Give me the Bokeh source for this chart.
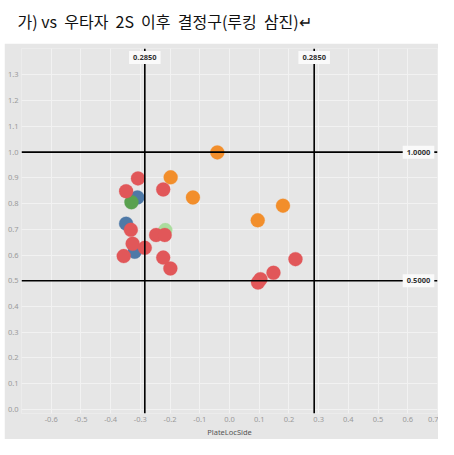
from bokeh.plotting import figure
from bokeh.models import Range1d, Span, FixedTicker, NumeralTickFormatter, ColumnDataSource
from bokeh.layouts import column
from bokeh.core.properties import value
from bokeh.embed import file_html
from bokeh.resources import INLINE

# ---- data ----
title_text = "가) vs\u00a0\u00a0우타자\u00a0\u00a02S\u00a0\u00a0이후\u00a0\u00a0결정구(루킹\u00a0\u00a0삼진)↵"
x_label = "PlateLocSide"

x_ticks = [-0.7, -0.6, -0.5, -0.4, -0.3, -0.2, -0.1, 0.0, 0.1, 0.2, 0.3, 0.4, 0.5, 0.6, 0.7]
y_ticks = [0.0, 0.1, 0.2, 0.3, 0.4, 0.5, 0.6, 0.7, 0.8, 0.9, 1.0, 1.1, 1.2, 1.3]

ref_x = [-0.285, 0.285]
ref_y = [1.0, 0.5]

blue_x = [-0.348, -0.310, -0.319]
blue_y = [0.722, 0.824, 0.613]

lightgreen_x = [-0.216]
lightgreen_y = [0.697]

green_x = [-0.330]
green_y = [0.805]

orange_x = [-0.041, -0.198, -0.123, 0.180, 0.095]
orange_y = [0.999, 0.902, 0.824, 0.792, 0.735]

red_x = [-0.308, -0.348, -0.223, -0.332, -0.247, -0.218, -0.326, -0.285,
         -0.356, -0.223, -0.199, 0.222, 0.148, 0.104, 0.096]
red_y = [0.898, 0.848, 0.855, 0.698, 0.678, 0.678, 0.644, 0.628,
         0.596, 0.590, 0.548, 0.584, 0.531, 0.506, 0.493]

series = [
    (blue_x, blue_y, "#4E79A7"),
    (lightgreen_x, lightgreen_y, "#ABDD9E"),
    (green_x, green_y, "#59A14F"),
    (orange_x, orange_y, "#F28E2B"),
    (red_x, red_y, "#E15759"),
]

BG = "#E6E6E6"
W = 438
TITLE_H = 43
CHART_H = 396
X0, X1 = -0.7, 0.7
Y0, Y1 = -0.016, 1.403

# ---- title strip ----
t = figure(width=W, height=TITLE_H, output_backend="svg", toolbar_location=None,
           x_range=Range1d(0, W), y_range=Range1d(0, TITLE_H),
           min_border=0, outline_line_color=None,
           background_fill_color="white", border_fill_color="white")
t.axis.visible = False
t.grid.visible = False
t.text(x=[0], y=[TITLE_H - 20], text=[title_text], text_font=value("Noto Sans CJK KR"),
       text_font_size="16px", text_color="#111111", text_baseline="middle",
       text_align="left")

# ---- chart ----
p = figure(width=W - 4, height=CHART_H, output_backend="svg", toolbar_location=None,
           x_range=Range1d(X0, X1), y_range=Range1d(Y0, Y1),
           min_border_left=17, min_border_right=1, min_border_top=5,
           min_border_bottom=0, margin=(0, 0, 0, 4),
           background_fill_color=BG, border_fill_color=BG,
           outline_line_color=None)

p.xaxis.ticker = FixedTicker(ticks=x_ticks)
p.yaxis.ticker = FixedTicker(ticks=y_ticks)
p.xaxis.formatter = NumeralTickFormatter(format="0.0")
p.yaxis.formatter = NumeralTickFormatter(format="0.0")
p.xaxis.major_label_overrides = {-0.7: ""}
for ax in (p.xaxis, p.yaxis):
    ax.axis_line_color = None
    ax.major_tick_line_color = None
    ax.minor_tick_line_color = None
    ax.major_tick_in = 0
    ax.major_tick_out = 0
    ax.major_label_text_font = "Noto Sans"
    ax.major_label_text_font_size = "7.5px"
    ax.major_label_text_color = "#9A9A9A"
p.yaxis.major_label_standoff = 3
p.xaxis.major_label_standoff = 3
p.xaxis.axis_label = x_label
p.xaxis.axis_label_text_font = "Noto Sans"
p.xaxis.axis_label_text_font_style = "normal"
p.xaxis.axis_label_text_font_size = "7.5px"
p.xaxis.axis_label_text_color = "#555555"
p.xaxis.axis_label_standoff = 2

p.grid.grid_line_color = "#F2F2F2"
p.grid.grid_line_width = 1

for xs, ys, c in series:
    src = ColumnDataSource(dict(x=xs, y=ys))
    p.scatter("x", "y", source=src, size=14, fill_color=c, line_color=c,
              line_alpha=0.6, line_width=0.5)

for v in ref_x:
    p.add_layout(Span(location=v, dimension="height", line_color="black", line_width=1.6))
for v in ref_y:
    p.add_layout(Span(location=v, dimension="width", line_color="black", line_width=1.6))

# reference-line value boxes
top_src = ColumnDataSource(dict(x=ref_x, y=[Y1] * len(ref_x),
                                label=[f"{abs(v):.4f}" for v in ref_x]))
p.text(x="x", y="y", text="label", source=top_src, text_align="center",
       text_baseline="middle", y_offset=9, text_font=value("Noto Sans"),
       text_font_size="7.5px", text_font_style="bold", text_color="#333333",
       background_fill_color="#FAFAFA", padding=4, level="overlay")

side_src = ColumnDataSource(dict(x=[X1] * len(ref_y), y=ref_y,
                                 label=[f"{abs(v):.4f}" for v in ref_y]))
p.text(x="x", y="y", text="label", source=side_src, text_align="center",
       text_baseline="middle", x_offset=-19, text_font=value("Noto Sans"),
       text_font_size="7.5px", text_font_style="bold", text_color="#333333",
       background_fill_color="#FAFAFA", padding=4, level="overlay")

layout = column(t, p, spacing=0)
open("out.html", "w").write(file_html(layout, INLINE))
